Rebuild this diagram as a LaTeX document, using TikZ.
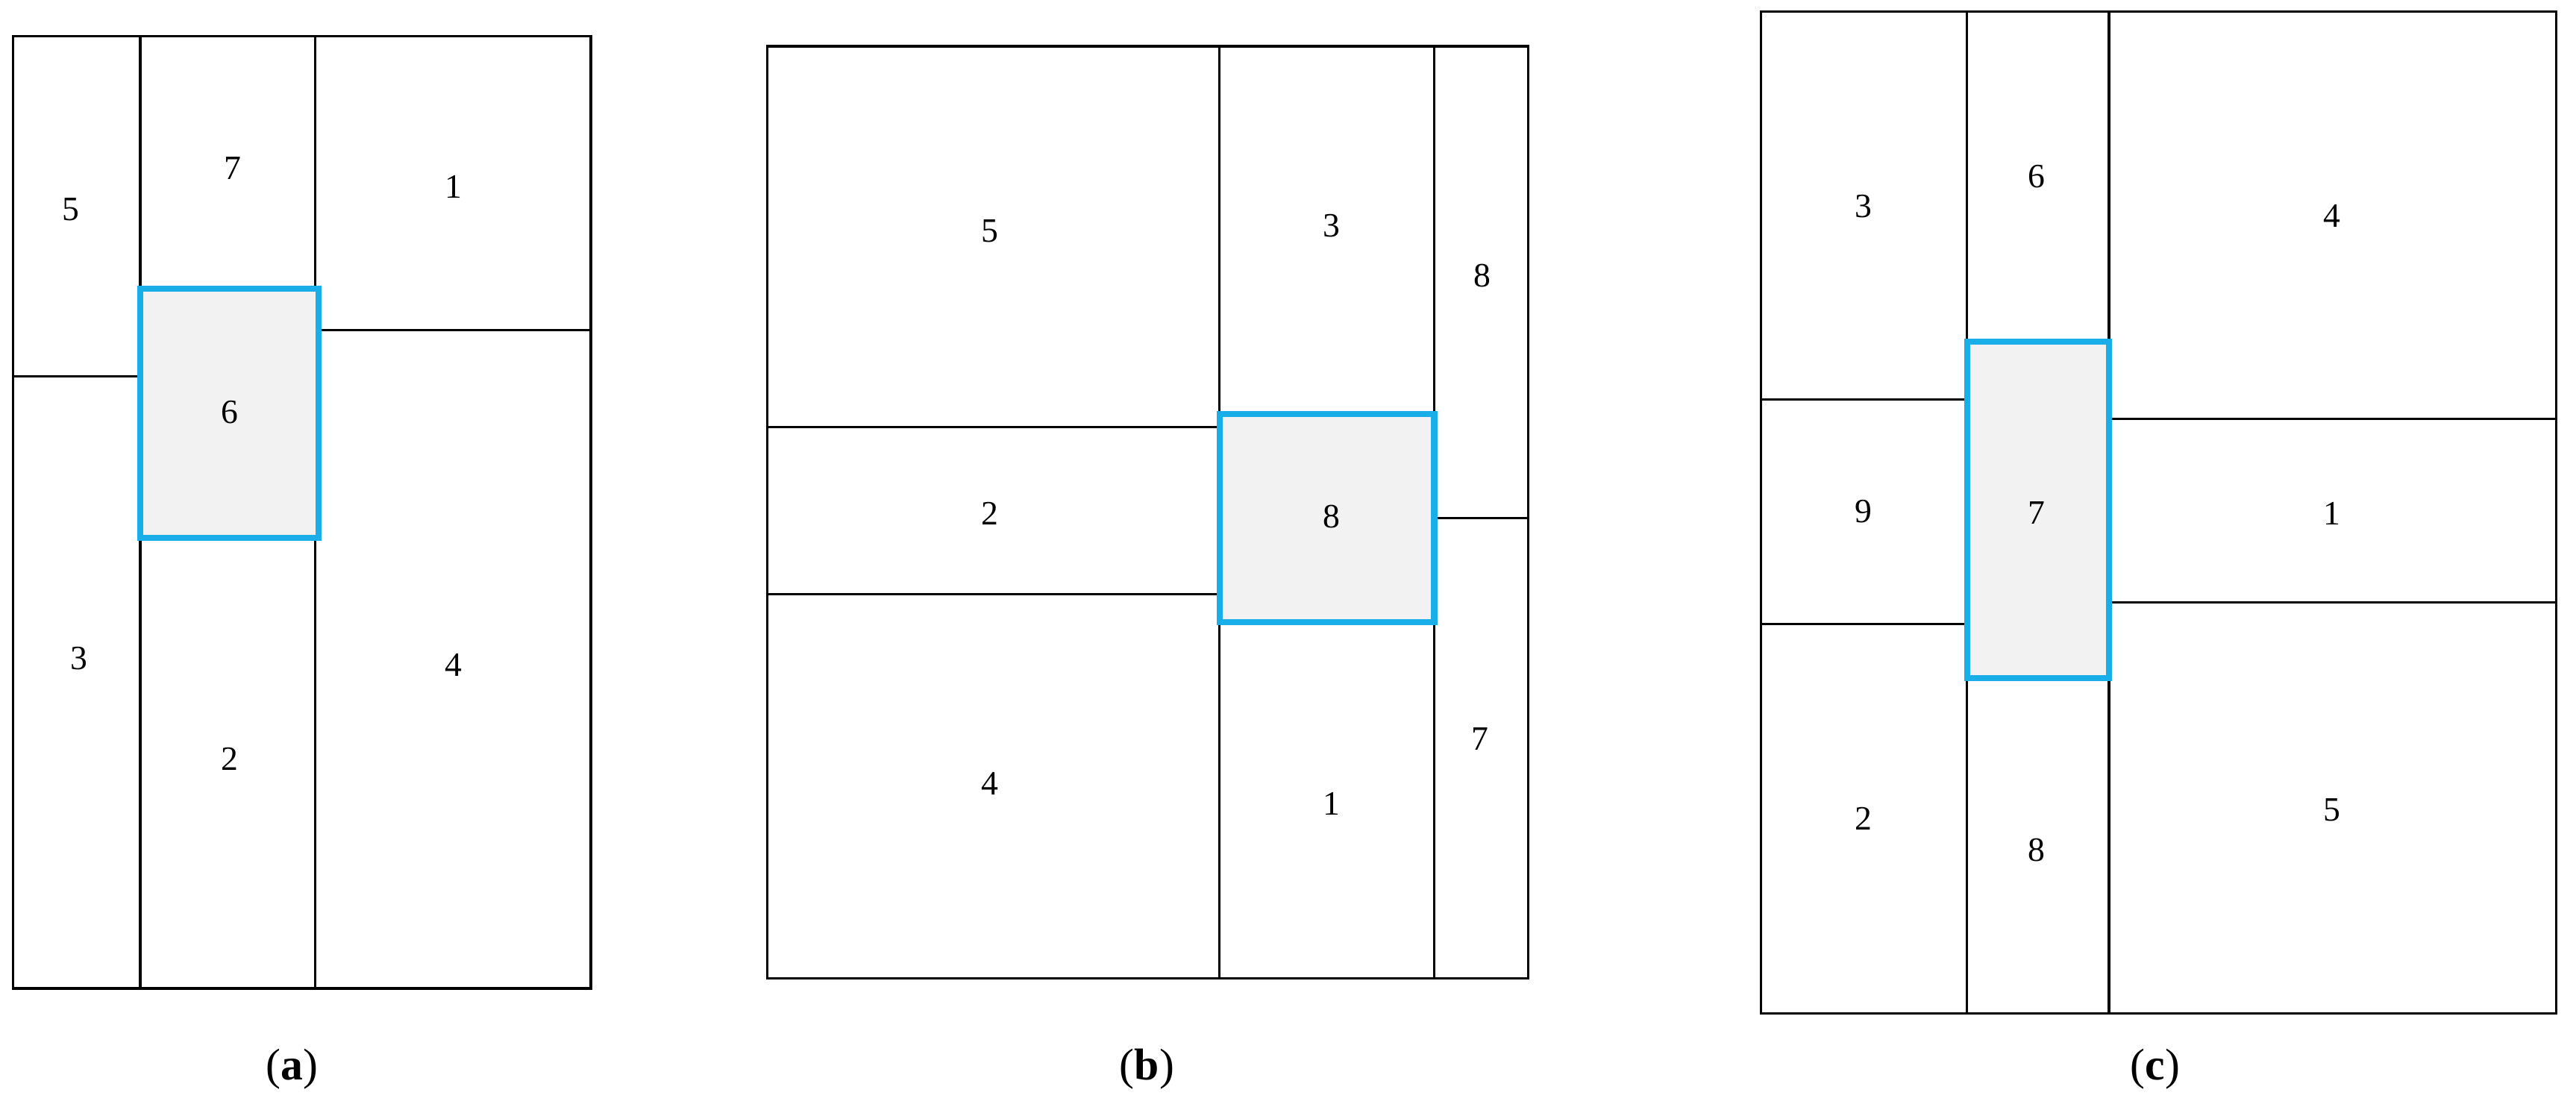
\documentclass[tikz,border=0pt]{standalone}
\usepackage{fontspec}
\setmainfont{Liberation Serif}
\definecolor{hl}{HTML}{1AAEE8}
\definecolor{hlfill}{HTML}{F2F2F2}
\begin{document}
\begin{tikzpicture}[x=0.02212cm,y=-0.02212cm,
  ln/.style={line width=0.9pt,black},
  hbox/.style={line width=2.4pt,draw=hl,fill=hlfill},
  lab/.style={font=\fontsize{13}{15}\selectfont},
  captext/.style={font=\fontsize{17}{20}\selectfont}]
\useasboundingbox (0,0) rectangle (1561,676);
% (a)
\draw[ln] (8,22) rectangle (358,599);
\draw[ln] (85,22) -- (85,599) (191,22) -- (191,599);
\draw[ln] (8,228) -- (85,228) (191,200) -- (358,200);
\draw[hbox] (85,175) rectangle (193,326);
\node[lab] (a5) at (43,127) {5};
\node[lab] (a7) at (141,102) {7};
\node[lab] (a1) at (275,113) {1};
\node[lab] (a6) at (139,250) {6};
\node[lab] (a3) at (48,399) {3};
\node[lab] (a2) at (139,460) {2};
\node[lab] (a4) at (275,403) {4};
\node[captext] (ca) at (177,648) {(\textbf{a})};
% (b)
\draw[ln] (465,28) rectangle (926,593);
\draw[ln] (739,28) -- (739,593) (869,28) -- (869,593);
\draw[ln] (465,259) -- (739,259) (465,360) -- (739,360) (869,314) -- (926,314);
\draw[hbox] (739,251) rectangle (869,377);
\node[lab] (b5) at (600,140) {5};
\node[lab] (b3) at (807,137) {3};
\node[lab] (b8a) at (898,167) {8};
\node[lab] (b2) at (600,311) {2};
\node[lab] (b8) at (807,313) {8};
\node[lab] (b4) at (600,475) {4};
\node[lab] (b1) at (807,487) {1};
\node[lab] (b7) at (897,448) {7};
\node[captext] (cb) at (695,648) {(\textbf{b})};
% (c)
\draw[ln] (1067,7) rectangle (1549,614);
\draw[ln] (1192,7) -- (1192,614) (1278,7) -- (1278,614);
\draw[ln] (1067,242) -- (1192,242) (1067,378) -- (1192,378) (1278,254) -- (1549,254) (1278,365) -- (1549,365);
\draw[hbox] (1192,207) rectangle (1278,411);
\node[lab] (c3) at (1129,125) {3};
\node[lab] (c6) at (1234,107) {6};
\node[lab] (c4) at (1413,131) {4};
\node[lab] (c9) at (1129,310) {9};
\node[lab] (c7) at (1234,311) {7};
\node[lab] (c1) at (1413,311) {1};
\node[lab] (c2) at (1129,496) {2};
\node[lab] (c8) at (1234,515) {8};
\node[lab] (c5) at (1413,491) {5};
\node[captext] (cc) at (1306,648) {(\textbf{c})};
\end{tikzpicture}
\end{document}
